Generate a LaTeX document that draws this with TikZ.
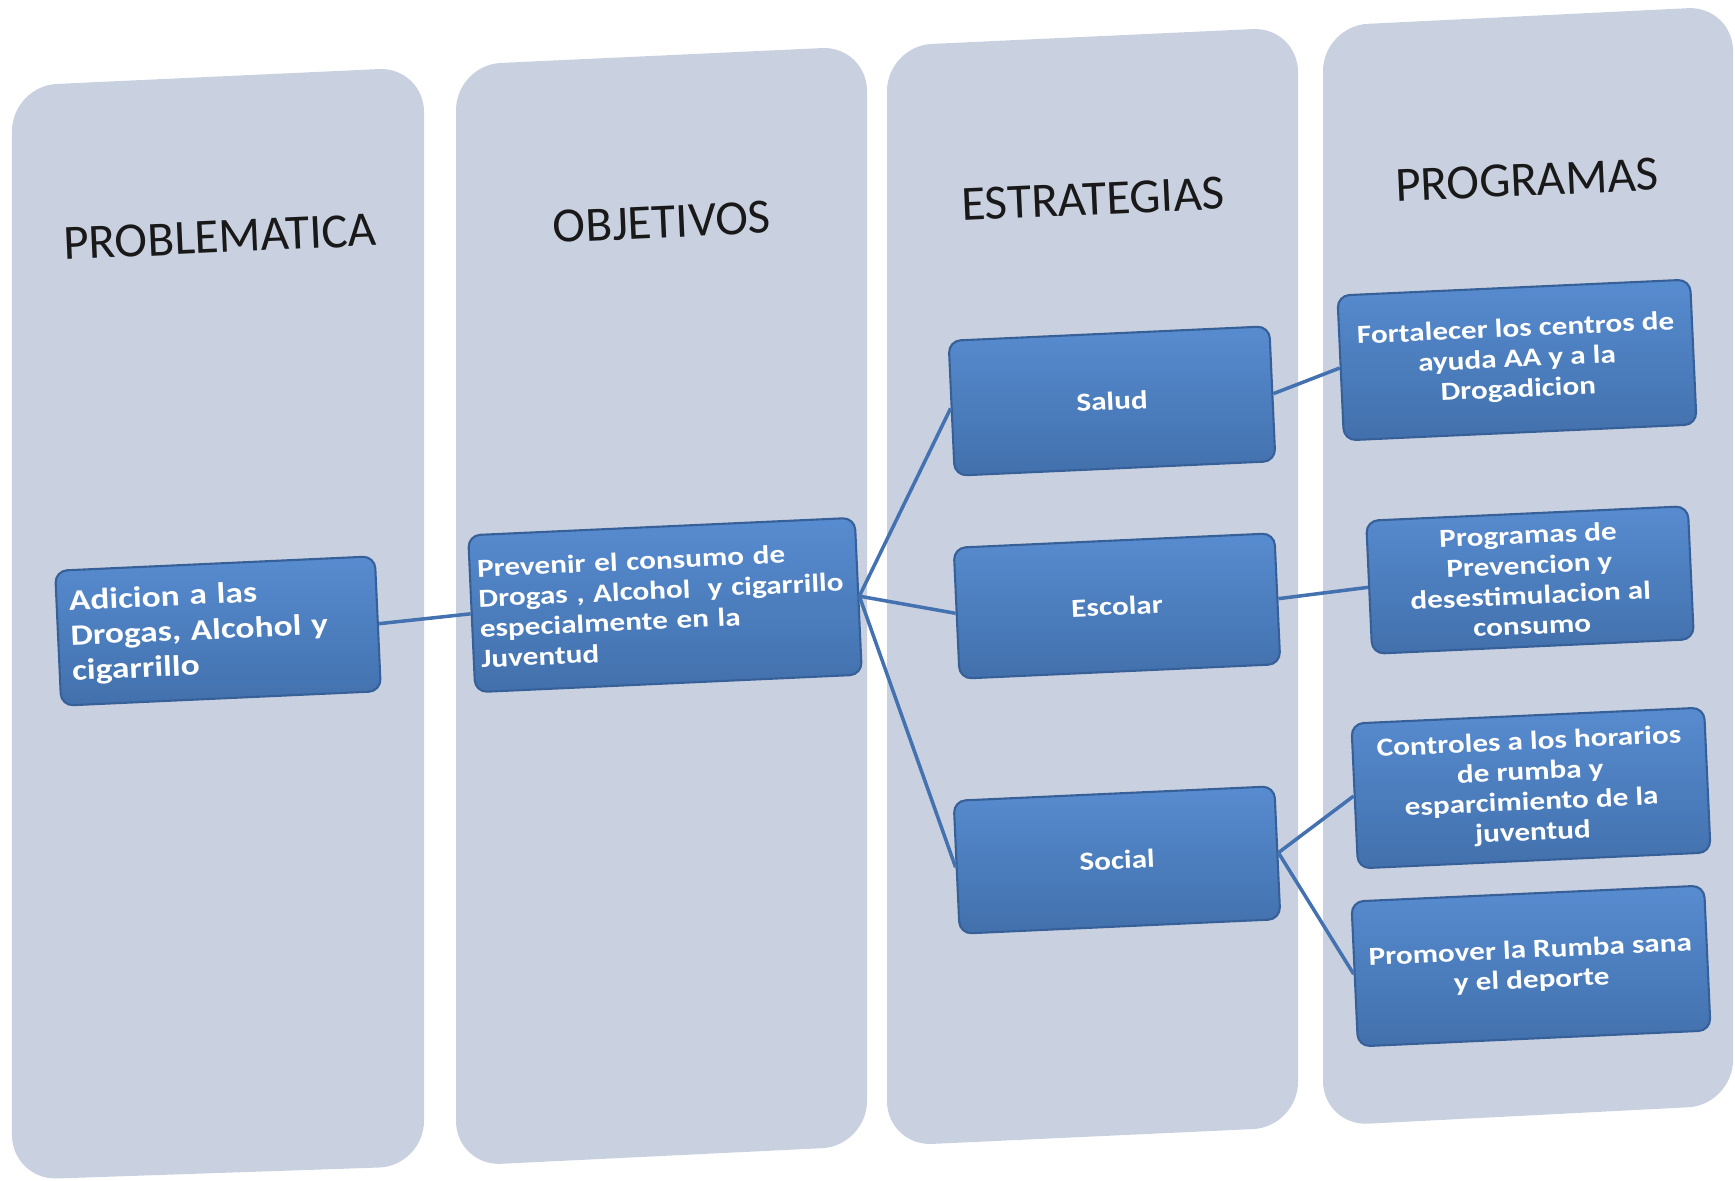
\documentclass[tikz,border=0pt]{standalone}
\usepackage{fontspec}
\setmainfont{Carlito}
\newfontfamily\boxfont[FakeStretch=1.2]{Carlito}
\definecolor{colbg}{RGB}{201,209,224}
\definecolor{boxtop}{RGB}{88,140,208}
\definecolor{boxmid}{RGB}{76,126,190}
\definecolor{boxbot}{RGB}{66,112,172}
\definecolor{boxedge}{RGB}{55,96,152}
\definecolor{linkblue}{RGB}{68,113,175}
\begin{document}
\begin{tikzpicture}[
  col/.style={fill=colbg, rounded corners=0.45cm},
  title/.style={rotate=2.6, text=black!90, font=\fontsize{14}{16}\selectfont},
  box/.style={rotate=2.6, rounded corners=0.12cm, draw=boxedge, line width=0.6pt,
    top color=boxtop, bottom color=boxbot, middle color=boxmid, text=white,
    inner sep=0.12cm, font=\boxfont\bfseries\fontsize{7.4}{8.6}\selectfont},
  link/.style={draw=linkblue, line width=1pt}]
\useasboundingbox (0,0) rectangle (17.35,11.80);

\path[col] (0.12,0) -- (0.12,10.94) -- (4.24,11.13) -- (4.24,0.14) -- cycle;
\path[col] (4.56,0.14) -- (4.56,11.15) -- (8.67,11.34) -- (8.67,0.34) -- cycle;
\path[col] (8.87,0.34) -- (8.87,11.34) -- (12.98,11.53) -- (12.98,0.53) -- cycle;
\path[col] (13.23,0.54) -- (13.23,11.54) -- (17.33,11.74) -- (17.33,0.75) -- cycle;

\node[title] (t1) at (2.20,9.43) {PROBLEMATICA};
\node[title] (t2) at (6.62,9.58) {OBJETIVOS};
\node[title] (t3) at (10.93,9.81) {ESTRATEGIAS};
\node[title] (t4) at (15.27,10.00) {PROGRAMAS};

\node[box, minimum width=3.2cm, minimum height=1.35cm, text width=2.95cm, align=left,
  font=\boxfont\bfseries\fontsize{8.4}{10}\selectfont] (1a) at (2.18,5.49)
  {Adicion a las\\Drogas, Alcohol y\\cigarrillo};
\node[box, minimum width=3.87cm, minimum height=1.57cm, text width=3.72cm, inner xsep=0.075cm,
  align=left] (2a) at (6.65,5.75)
  {Prevenir el consumo de\\Drogas , Alcohol\ \ y cigarrillo\\especialmente en la\\Juventud};

\node[box, minimum width=3.21cm, minimum height=1.35cm] (3a) at (11.12,7.79) {Salud};
\node[box, minimum width=3.21cm, minimum height=1.31cm] (3b) at (11.17,5.74) {Escolar};
\node[box, minimum width=3.21cm, minimum height=1.33cm] (3c) at (11.17,3.20) {Social};

\node[box, minimum width=3.53cm, minimum height=1.45cm, align=center] (4a) at (15.17,8.20)
  {Fortalecer los centros de\\ayuda AA y a la\\Drogadicion};
\node[box, minimum width=3.22cm, minimum height=1.32cm, align=center] (4b) at (15.30,6.00)
  {Programas de\\Prevencion y\\desestimulacion al\\consumo};
\node[box, minimum width=3.53cm, minimum height=1.45cm, align=center] (4c) at (15.31,3.92)
  {Controles a los horarios\\de rumba y\\esparcimiento de la\\juventud};
\node[box, minimum width=3.53cm, minimum height=1.45cm, align=center] (4d) at (15.31,2.14)
  {Promover la Rumba sana\\y el deporte};

\path[link] (1a.east) -- (2a.west);
\path[link] (2a.east) -- (3a.west);
\path[link] (2a.east) -- (3b.west);
\path[link] (2a.east) -- (3c.west);
\path[link] (3a.east) -- (4a.west);
\path[link] (3b.east) -- (4b.west);
\path[link] (3c.east) -- (4c.west);
\path[link] (3c.east) -- (4d.west);
\end{tikzpicture}
\end{document}
